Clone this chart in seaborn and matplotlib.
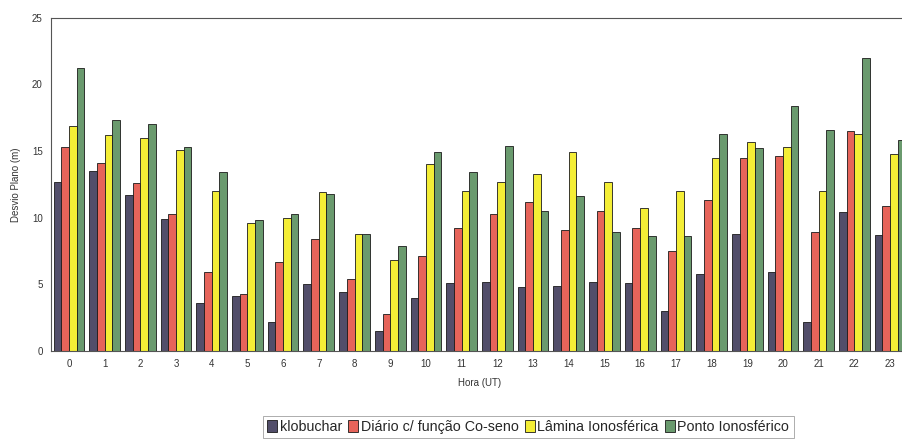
import pandas as pd
import matplotlib
matplotlib.use("Agg")
import matplotlib.pyplot as plt
import seaborn as sns


# Valores (Desvio Plano em metros, por hora UT)

hours = [str(h) for h in range(24)]
series_names = ["klobuchar", "Diário c/ função Co-seno", "Lâmina Ionosférica", "Ponto Ionosférico"]

klobuchar = [12.7, 13.5, 11.7, 9.9, 3.6, 4.1, 2.2, 5.0, 4.4, 1.5, 4.0, 5.1,
             5.2, 4.8, 4.9, 5.2, 5.1, 3.0, 5.8, 8.8, 5.9, 2.2, 10.4, 8.7]
diario = [15.3, 14.1, 12.6, 10.3, 5.9, 4.3, 6.7, 8.4, 5.4, 2.8, 7.1, 9.2,
          10.3, 11.2, 9.1, 10.5, 9.2, 7.5, 11.3, 14.5, 14.6, 8.9, 16.5, 10.9]
lamina = [16.9, 16.2, 16.0, 15.1, 12.0, 9.6, 10.0, 11.9, 8.8, 6.8, 14.0, 12.0,
          12.7, 13.3, 14.9, 12.7, 10.7, 12.0, 14.5, 15.7, 15.3, 12.0, 16.3, 14.8]
ponto = [21.2, 17.3, 17.0, 15.3, 13.4, 9.8, 10.3, 11.8, 8.8, 7.9, 14.9, 13.4,
         15.4, 10.5, 11.6, 8.9, 8.6, 8.6, 16.3, 15.2, 18.4, 16.6, 22.0, 15.8]

colors = ["#524e6a", "#e6645a", "#f4ee36", "#6a9a6e"]

# Dataframe em formato longo para o seaborn

data = pd.DataFrame({
    "Hora": hours * 4,
    "Serie": [n for n in series_names for _ in hours],
    "Desvio": klobuchar + diario + lamina + ponto,
})


sns.set_style("white")
plt.rcParams["font.family"] = ["Liberation Sans", "DejaVu Sans"]

fig = plt.figure(figsize=(9.03, 4.46), dpi=100)
ax = fig.add_axes([0.0565, 0.213, 0.949, 0.747])

sns.barplot(data=data, x="Hora", y="Desvio", hue="Serie", hue_order=series_names,
            palette=colors, saturation=1, width=0.86, edgecolor="#1a1a1a",
            linewidth=0.6, errorbar=None, ax=ax)

ax.set_ylim(0, 25)
ax.set_xlim(-0.5, 23.5)
ax.set_yticks([0, 5, 10, 15, 20, 25])
ax.tick_params(axis="both", labelsize=7, length=0, pad=6, colors="#333333")
ax.set_ylabel("Desvio Plano (m)", fontsize=7, color="#333333", labelpad=8)
ax.set_xlabel("Hora (UT)", fontsize=7, color="#333333", labelpad=6)

for side in ["top", "left", "bottom"]:
    ax.spines[side].set_color("#555555")
    ax.spines[side].set_linewidth(0.8)
ax.spines["right"].set_visible(False)

ax.get_legend().remove()
handles, labels = ax.get_legend_handles_labels()
leg = fig.legend(handles, labels, loc="center", bbox_to_anchor=(0.585, 0.043),
                 ncol=4, fontsize=10.3, frameon=True, fancybox=False,
                 handlelength=0.7, handleheight=0.9, handletextpad=0.2,
                 columnspacing=0.4, borderpad=0.3)
leg.get_frame().set_edgecolor("#888888")
leg.get_frame().set_linewidth(0.6)

fig.savefig("out.png", dpi=100)
